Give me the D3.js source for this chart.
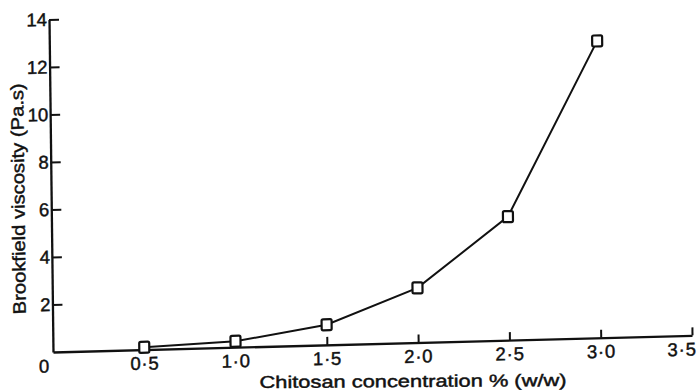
<!DOCTYPE html>
<html>
<head>
<meta charset="utf-8">
<script src="https://cdn.jsdelivr.net/npm/d3@7"></script>
<style>
  body { margin: 0; background: #fff; }
  svg { display: block; }
  text { font-family: "Liberation Sans", Arial, Helvetica, sans-serif; fill: #111; stroke: #111; stroke-width: 0.45px; }
</style>
</head>
<body>
<svg id="chart" width="699" height="392"></svg>
<script>
// Chitosan concentration (% w/w) against Brookfield viscosity (Pa.s)
const concentration = [0.5, 1.0, 1.5, 2.0, 2.5, 3.0];
const viscosity = [0.1, 0.25, 0.85, 2.3, 5.2, 12.5];

const xTickValues = [0.5, 1.0, 1.5, 2.0, 2.5, 3.0, 3.5];
const xTickLabels = ["0·5", "1·0", "1·5", "2·0", "2·5", "3·0", "3·5"];
const yTickValues = [2, 4, 6, 8, 10, 12, 14];
const yTickLabels = ["2", "4", "6", "8", "10", "12", "14"];
const originLabel = "0";
const xTitle = "Chitosan concentration % (w/w)";
const yTitle = "Brookfield viscosity (Pa.s)";

const svg = d3.select("#chart");

const x = d3.scaleLinear().domain([0, 3.5]).range([53, 692]);
const y = d3.scaleLinear().domain([0, 14]).range([352, 19.5]);

// The printed sheet is slightly sheared: the baseline drops toward the right
// and the left axis leans a little at the top.
const kx = 0.012, ky = -0.026, ox = 53, oy = 352;
const g = svg.append("g")
  .attr("transform", `matrix(1,${ky},${kx},1,${-kx * oy},${-ky * ox})`);

// x axis: ticks point up into the plot
const xAxis = g.append("g")
  .attr("transform", `translate(0,${y(0)})`)
  .call(d3.axisBottom(x)
    .tickValues(xTickValues)
    .tickFormat((d, i) => xTickLabels[i])
    .tickSize(-8)
    .tickSizeOuter(0)
    .tickPadding(7));

// y axis: ticks point right into the plot
const yAxis = g.append("g")
  .attr("transform", `translate(${x(0)},0)`)
  .call(d3.axisLeft(y)
    .tickValues(yTickValues)
    .tickFormat((d, i) => yTickLabels[i])
    .tickSize(-10)
    .tickSizeOuter(0)
    .tickPadding(2));

[xAxis, yAxis].forEach(ax => {
  ax.attr("font-family", null).attr("font-size", null);
  ax.select(".domain").attr("stroke", "#111").attr("stroke-width", 2.3);
  ax.selectAll(".tick line").attr("stroke", "#111").attr("stroke-width", 2);
  ax.selectAll(".tick text").attr("font-size", 18.5).attr("fill", "#111");
});

// x tick labels are spaced a little wider, and the last one is pulled in from the edge
xAxis.selectAll(".tick text")
  .attr("letter-spacing", 0.8)
  .filter(d => d === 3.5)
  .attr("text-anchor", "end")
  .attr("x", 4);

// origin label sits below and left of the corner
g.append("text")
  .attr("x", x(0) - 9)
  .attr("y", y(0) + 14)
  .attr("dy", "0.35em")
  .attr("text-anchor", "middle")
  .attr("font-size", 18.5)
  .text(originLabel);

// y title runs up the left margin
g.append("text")
  .attr("transform", "translate(20,198) rotate(-90)")
  .attr("dy", "0.35em")
  .attr("text-anchor", "middle")
  .attr("font-size", 18)
  .attr("textLength", 231)
  .attr("lengthAdjust", "spacingAndGlyphs")
  .text(yTitle);

// x title along the bottom, only barely tilted
svg.append("text")
  .attr("transform", "translate(413,387) rotate(-0.4)")
  .attr("text-anchor", "middle")
  .attr("font-size", 17)
  .attr("textLength", 307)
  .attr("lengthAdjust", "spacingAndGlyphs")
  .text(xTitle);

// data line and open square markers
const points = concentration.map((c, i) => ({ c, v: viscosity[i] }));

g.append("path")
  .datum(points)
  .attr("fill", "none")
  .attr("stroke", "#111")
  .attr("stroke-width", 2)
  .attr("d", d3.line().x(d => x(d.c)).y(d => y(d.v)));

const mw = 10, mh = 11;
g.selectAll("rect.marker")
  .data(points)
  .join("rect")
  .attr("class", "marker")
  .attr("x", d => x(d.c) - mw / 2)
  .attr("y", d => y(d.v) - mh / 2)
  .attr("width", mw)
  .attr("height", mh)
  .attr("rx", 1.5)
  .attr("fill", "#fff")
  .attr("stroke", "#111")
  .attr("stroke-width", 2.2);
</script>
</body>
</html>
